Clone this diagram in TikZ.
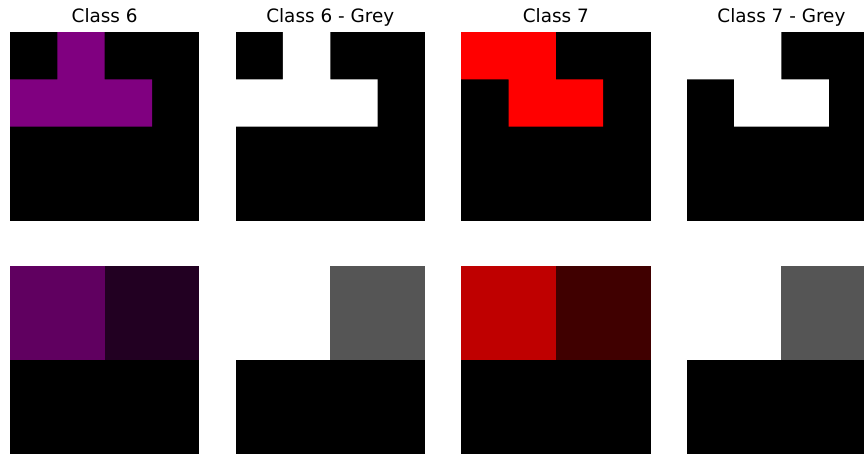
\documentclass[tikz,border=0pt]{standalone}
\usepackage{fontspec}
\setmainfont{DejaVu Sans}
\definecolor{purpA}{HTML}{800080}
\definecolor{purpB}{HTML}{600060}
\definecolor{purpC}{HTML}{220022}
\definecolor{redA}{HTML}{FF0000}
\definecolor{redB}{HTML}{BF0000}
\definecolor{redC}{HTML}{400000}
\definecolor{greyB}{HTML}{555555}
\tikzset{
  ttl/.style={anchor=base, inner sep=0pt, font=\fontsize{18.4}{22}\selectfont},
  bg/.style={fill=black},
}
\newcommand\Tsix{(47.33,0) -- (94.67,0) -- (94.67,47.33) -- (142,47.33) -- (142,94.67) -- (0,94.67) -- (0,47.33) -- (47.33,47.33) -- cycle}
\newcommand\Tseven{(0,0) -- (94.67,0) -- (94.67,47.33) -- (142,47.33) -- (142,94.67) -- (47.33,94.67) -- (47.33,47.33) -- (0,47.33) -- cycle}
\begin{document}
\begin{tikzpicture}[x=1pt,y=-1pt]
\useasboundingbox (0,0) rectangle (864,453);
\clip (0,0) rectangle (864,453);
% titles
\node[ttl] (t1) at (104.65,22.7) {Class 6};
\node[ttl] (t2) at (330.25,22.7) {Class 6 - Grey};
\node[ttl] (t3) at (555.85,22.7) {Class 7};
\node[ttl] (t4) at (781.45,22.7) {Class 7 - Grey};
% top row
\begin{scope}[shift={(10,32)}]
  \fill[bg] (0,0) rectangle (189.3,189.3);
  \fill[purpA] \Tsix;
\end{scope}
\begin{scope}[shift={(235.6,32)}]
  \fill[bg] (0,0) rectangle (189.3,189.3);
  \fill[white] \Tsix;
\end{scope}
\begin{scope}[shift={(461.2,32)}]
  \fill[bg] (0,0) rectangle (189.3,189.3);
  \fill[redA] \Tseven;
\end{scope}
\begin{scope}[shift={(686.8,32)}]
  \fill[bg] (0,0) rectangle (189.3,189.3);
  \fill[white] \Tseven;
\end{scope}
% bottom row
\begin{scope}[shift={(10,265.7)}]
  \fill[bg] (0,0) rectangle (189.3,189.3);
  \fill[purpB] (0,0) rectangle (94.65,94.65);
  \fill[purpC] (94.65,0) rectangle (189.3,94.65);
\end{scope}
\begin{scope}[shift={(235.6,265.7)}]
  \fill[bg] (0,0) rectangle (189.3,189.3);
  \fill[white] (0,0) rectangle (94.65,94.65);
  \fill[greyB] (94.65,0) rectangle (189.3,94.65);
\end{scope}
\begin{scope}[shift={(461.2,265.7)}]
  \fill[bg] (0,0) rectangle (189.3,189.3);
  \fill[redB] (0,0) rectangle (94.65,94.65);
  \fill[redC] (94.65,0) rectangle (189.3,94.65);
\end{scope}
\begin{scope}[shift={(686.8,265.7)}]
  \fill[bg] (0,0) rectangle (189.3,189.3);
  \fill[white] (0,0) rectangle (94.65,94.65);
  \fill[greyB] (94.65,0) rectangle (189.3,94.65);
\end{scope}
\end{tikzpicture}
\end{document}
